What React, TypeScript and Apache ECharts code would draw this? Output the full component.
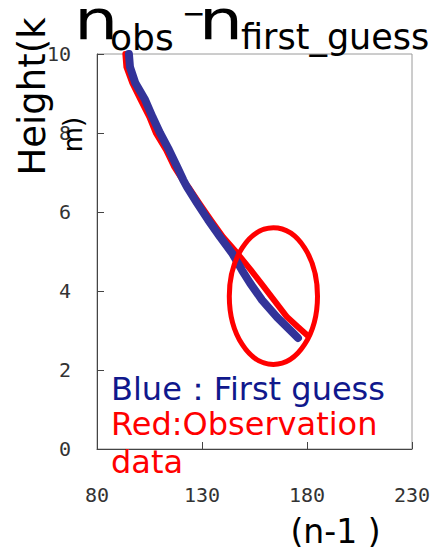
import React, { useEffect, useRef } from "react";
import * as echarts from "echarts";

// x axis: n-1 ; y axis: height (km)
const xTicks = [80, 130, 180, 230];
const yTicks = [0, 2, 4, 6, 8, 10];

// Blue : first guess
const firstGuessN = [95.2, 95.7, 98.2, 102.9, 106.4, 110.0, 114.3, 118.2, 121.1, 122.9, 127.6, 132.9, 138.6, 144.3, 149.0, 152.9, 158.6, 165.7, 173.3, 175.7];
const firstGuessH = [10.0, 9.67, 9.27, 8.84, 8.41, 8.0, 7.57, 7.14, 6.81, 6.63, 6.23, 5.8, 5.37, 4.96, 4.53, 4.2, 3.77, 3.34, 2.94, 2.81];

// Red : observation data
const obsN = [93.5, 94.0, 96.8, 100.8, 104.9, 108.0, 112.9, 116.8, 120.8, 123.6, 128.6, 134.2, 140.0, 146.7, 153.3, 158.1, 164.3, 170.5, 175.7, 180.5];
const obsH = [10.0, 9.67, 9.27, 8.84, 8.41, 8.0, 7.57, 7.14, 6.81, 6.63, 6.23, 5.8, 5.37, 4.96, 4.53, 4.2, 3.77, 3.34, 3.09, 2.86];

// highlighted region (data units)
const ellipseCenter = [164, 3.87];
const ellipseRadius = [21, 1.73];

const SANS = '"DejaVu Sans", sans-serif';
const MONO = '"DejaVu Sans Mono", monospace';

function txt(text: string, x: number, y: number, size: number, fill: string, extra: any = {}) {
  const align = extra.align || "left";
  const style: any = {
    text,
    fontSize: size,
    fontFamily: SANS,
    fill,
    align,
    textAlign: align,
    verticalAlign: "middle",
    textVerticalAlign: "middle",
  };
  if (extra.lineHeight) style.lineHeight = extra.lineHeight;
  return {
    type: "text",
    x,
    y,
    rotation: extra.rotation || 0,
    scaleX: extra.scaleX || 1,
    silent: true,
    z: 100,
    style,
  };
}

export default function App() {
  const ref = useRef<HTMLDivElement>(null);
  useEffect(() => {
    const chart = echarts.init(ref.current!, null, { renderer: "svg" });
    const option: any = {
      animation: false,
      grid: {
        left: 97,
        right: 23,
        top: 54,
        bottom: 102,
        show: true,
        borderColor: "#9a9a9a",
        borderWidth: 1,
        backgroundColor: "transparent",
      },
      xAxis: {
        type: "value",
        min: xTicks[0],
        max: xTicks[xTicks.length - 1],
        interval: 50,
        splitLine: { show: false },
        axisLine: { show: true, onZero: false, lineStyle: { color: "#444", width: 1 } },
        axisTick: { show: true, inside: true, length: 7, lineStyle: { color: "#444" } },
        axisLabel: { margin: 36, fontFamily: MONO, fontSize: 20, color: "#333" },
      },
      yAxis: {
        type: "value",
        min: yTicks[0],
        max: yTicks[yTicks.length - 1],
        interval: 2,
        splitLine: { show: false },
        axisLine: { show: true, onZero: false, lineStyle: { color: "#444", width: 1 } },
        axisTick: { show: true, inside: true, length: 7, lineStyle: { color: "#444" } },
        axisLabel: { margin: 26, fontFamily: MONO, fontSize: 20, color: "#333" },
      },
      series: [
        {
          type: "line",
          name: "Observation",
          data: obsN.map((n, i) => [n, obsH[i]]),
          showSymbol: false,
          symbol: "none",
          lineStyle: { color: "#ff0000", width: 6, cap: "round", join: "round" },
          z: 2,
        },
        {
          type: "line",
          name: "First guess",
          data: firstGuessN.map((n, i) => [n, firstGuessH[i]]),
          showSymbol: false,
          symbol: "none",
          lineStyle: { color: "#333399", width: 8, cap: "round", join: "round" },
          z: 3,
        },
      ],
    };
    chart.setOption(option);

    const c = chart.convertToPixel({ gridIndex: 0 }, ellipseCenter) as number[];
    const e = chart.convertToPixel({ gridIndex: 0 }, [
      ellipseCenter[0] + ellipseRadius[0],
      ellipseCenter[1] + ellipseRadius[1],
    ]) as number[];

    chart.setOption({
      graphic: [
        {
          type: "ellipse",
          silent: true,
          z: 50,
          shape: { cx: c[0], cy: c[1], rx: Math.abs(e[0] - c[0]), ry: Math.abs(e[1] - c[1]) },
          style: { fill: "none", stroke: "#ff0000", lineWidth: 5 },
        },
        // title n_obs - n_first_guess
        txt("n", 74, 20, 56, "#000", { scaleX: 1.25, lineHeight: 38 }),
        txt("obs", 110, 37.5, 36, "#000"),
        txt("\u2212", 182, 13, 28, "#000", { lineHeight: 24 }),
        txt("n", 198.7, 20, 56, "#000", { scaleX: 1.25, lineHeight: 38 }),
        txt("first_guess", 241, 36.9, 35, "#000"),
        // y axis name
        txt("Height(k", 32.2, 96.5, 37, "#000", { align: "center", rotation: Math.PI / 2 }),
        txt("m)", 73, 134.5, 26, "#000", { align: "center", rotation: Math.PI / 2 }),
        // x axis name
        txt("(n-1 )", 335.5, 531.5, 33, "#000", { align: "center", lineHeight: 33 }),
        // legend notes
        txt("Blue\uFF1AFirst guess", 111, 388.9, 32, "#10188c"),
        txt("Red:Observation", 111, 423.9, 32, "#ff0000"),
        txt("data", 111, 461.9, 32, "#ff0000"),
      ],
    });

    return () => chart.dispose();
  }, []);
  return (
    <div
      ref={ref}
      style={{ position: "absolute", left: 0, top: 0, width: 435, height: 551 }}
    />
  );
}
